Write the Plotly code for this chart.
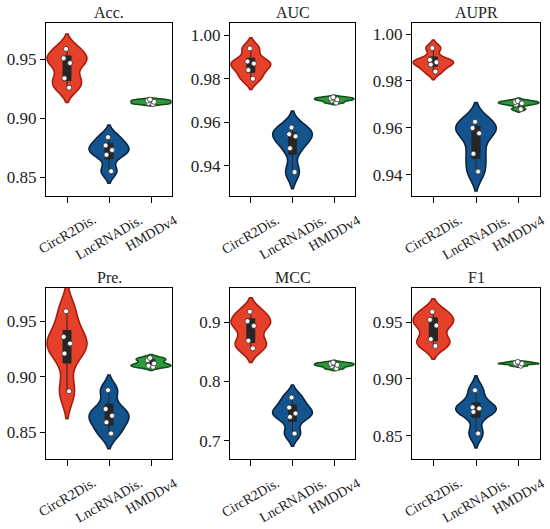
import numpy as np
import plotly.graph_objects as go

methods = ["CircR2Dis.", "LncRNADis.", "HMDDv4"]
metrics = ["Acc.", "AUC", "AUPR", "Pre.", "MCC", "F1"]

acc_circ = [0.959, 0.951, 0.947, 0.934, 0.926]
acc_lnc = [0.884, 0.877, 0.873, 0.869, 0.855]
acc_hmdd = [0.916, 0.915, 0.914, 0.913, 0.912]

auc_circ = [0.994, 0.988, 0.987, 0.984, 0.980]
auc_lnc = [0.9575, 0.9545, 0.9535, 0.948, 0.937]
auc_hmdd = [0.9715, 0.971, 0.9705, 0.970, 0.969]

aupr_circ = [0.994, 0.989, 0.988, 0.987, 0.984]
aupr_lnc = [0.9626, 0.960, 0.9577, 0.949, 0.9414]
aupr_hmdd = [0.9715, 0.971, 0.9705, 0.970, 0.968]

pre_circ = [0.959, 0.936, 0.930, 0.921, 0.887]
pre_lnc = [0.888, 0.871, 0.865, 0.859, 0.849]
pre_hmdd = [0.917, 0.915, 0.912, 0.910, 0.909]

mcc_circ = [0.918, 0.902, 0.894, 0.869, 0.856]
mcc_lnc = [0.773, 0.756, 0.746, 0.740, 0.712]
mcc_hmdd = [0.832, 0.830, 0.828, 0.826, 0.822]

f1_circ = [0.959, 0.952, 0.947, 0.935, 0.929]
f1_lnc = [0.890, 0.875, 0.874, 0.871, 0.852]
f1_hmdd = [0.915, 0.914, 0.9135, 0.913, 0.9115]

panel_data = [
    [acc_circ, acc_lnc, acc_hmdd],
    [auc_circ, auc_lnc, auc_hmdd],
    [aupr_circ, aupr_lnc, aupr_hmdd],
    [pre_circ, pre_lnc, pre_hmdd],
    [mcc_circ, mcc_lnc, mcc_hmdd],
    [f1_circ, f1_lnc, f1_hmdd],
]

y_ranges = [
    [0.834, 0.981],
    [0.926, 1.0057],
    [0.931, 1.0047],
    [0.826, 0.980],
    [0.669, 0.958],
    [0.8295, 0.980],
]
y_ticks = [
    [0.85, 0.90, 0.95],
    [0.94, 0.96, 0.98, 1.00],
    [0.94, 0.96, 0.98, 1.00],
    [0.85, 0.90, 0.95],
    [0.7, 0.8, 0.9],
    [0.85, 0.90, 0.95],
]
y_fmt = [".2f", ".2f", ".2f", ".2f", ".1f", ".2f"]

fills = ["#E5402A", "#13548E", "#2C9A3A"]
edges = ["#A81B0E", "#0B2440", "#14501C"]

W, H = 550, 529
x_doms = [(46, 172), (230, 355), (412, 540)]
y_doms = [(23, 196), (288, 459)]

fig = go.Figure()
FONT = "Liberation Serif, Times New Roman, serif"

for i, metric in enumerate(metrics):
    r, c = divmod(i, 3)
    ax = "" if i == 0 else str(i + 1)
    xa, ya = "x" + ax, "y" + ax
    for j, m in enumerate(methods):
        vals = np.array(panel_data[i][j])
        bw = float(0.65 * np.std(vals, ddof=1) * len(vals) ** (-0.2))
        fig.add_trace(go.Violin(
            x=[m] * len(vals), y=vals, xaxis=xa, yaxis=ya,
            name=m, showlegend=False,
            fillcolor=fills[j], line=dict(color=edges[j], width=1.6),
            opacity=1, width=0.95, bandwidth=bw, spanmode="soft",
            points="all", pointpos=0, jitter=0.2,
            marker=dict(color="white", size=5, line=dict(color="#333333", width=0.8)),
            box=dict(visible=True, width=0.2, fillcolor="#262626",
                     line=dict(color="#262626", width=1)),
            meanline=dict(visible=False),
            hoveron="points",
        ))
        fig.add_annotation(
            text=m, x=m, xref=xa, y=0, yref=ya + " domain",
            xanchor="center", yanchor="top", yshift=-14, textangle=-30,
            showarrow=False, font=dict(family=FONT, size=14, color="#222"),
        )
    x0, x1 = x_doms[c]
    y0, y1 = y_doms[r]
    fig.layout["xaxis" + ax] = dict(
        domain=[x0 / W, x1 / W], anchor=ya, type="category",
        categoryorder="array", categoryarray=methods, automargin=False,
        range=[-0.5, 2.5], showline=True, mirror=True, linecolor="black",
        linewidth=1.2, ticks="outside", ticklen=6, tickcolor="black",
        showticklabels=False, showgrid=False, zeroline=False,
    )
    fig.layout["yaxis" + ax] = dict(
        domain=[1 - y1 / H, 1 - y0 / H], anchor=xa, automargin=False,
        range=y_ranges[i], tickvals=y_ticks[i], tickformat=y_fmt[i],
        showline=True, mirror=True, linecolor="black", linewidth=1.2,
        ticks="outside", ticklen=5, tickcolor="black",
        tickfont=dict(family=FONT, size=17, color="#222"),
        showgrid=False, zeroline=False,
    )
    fig.add_annotation(
        text=metric, x=(x0 + x1) / 2 / W, y=1 - y0 / H, xref="paper", yref="paper",
        xanchor="center", yanchor="bottom", yshift=0, showarrow=False,
        font=dict(family=FONT, size=16, color="#222"),
    )

fig.update_layout(
    width=W, height=H, margin=dict(l=0, r=0, t=0, b=0, autoexpand=False),
    paper_bgcolor="white", plot_bgcolor="white",
    violinmode="overlay", violingap=0,
)

fig.write_html(
    "out.html",
    config={"displayModeBar": False},
    post_script="document.body.style.margin='0';document.body.style.padding='0';",
)
